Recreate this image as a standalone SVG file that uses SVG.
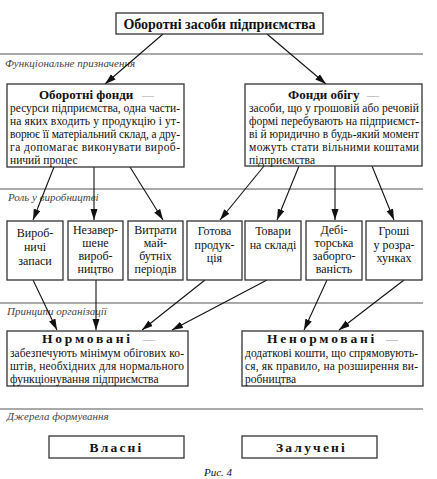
<svg xmlns="http://www.w3.org/2000/svg" width="437" height="479" viewBox="0 0 437 479">
<defs>
<marker id="ah" markerUnits="userSpaceOnUse" markerWidth="12" markerHeight="8" refX="11" refY="3.5" orient="auto">
<path d="M0,0 L11,3.5 L0,7 z" fill="#111"/>
</marker>
</defs>
<style>
.bx{fill:#fff;stroke:#333;stroke-width:1.3}
.sep{stroke:#555;stroke-width:1.2}
.lbl{font-family:"Liberation Serif",serif;font-style:italic;font-size:11px;fill:#444}
.t{font-family:"Liberation Serif",serif;fill:#111}
.ttl{font-weight:bold;font-size:14px}
.h{font-weight:bold;font-size:13px}
.sp{font-weight:bold;font-size:13.5px;letter-spacing:2.8px}
.b{font-size:11.5px}
.s{font-size:12px;text-anchor:middle}
.dash{fill:#999;font-size:12px}
.c line{stroke:#111;stroke-width:1.1;marker-end:url(#ah)}
</style>
<rect width="437" height="479" fill="#fff"/>
<g id="separators">
<line class="sep" x1="0" y1="54" x2="423" y2="54"/>
<line class="sep" x1="0" y1="189" x2="423" y2="189"/>
<line class="sep" x1="0" y1="303" x2="423" y2="303"/>
<line class="sep" x1="0" y1="409" x2="423" y2="409"/>
<text class="lbl" x="5" y="67">Функціональне призначення</text>
<text class="lbl" x="8" y="201">Роль у виробництві</text>
<text class="lbl" x="7" y="315">Принципи організації</text>
<text class="lbl" x="7" y="420">Джерела формування</text>
</g>
<g class="c" id="connectors">
<line x1="163" y1="34" x2="105" y2="84"/>
<line x1="267" y1="34" x2="326" y2="84"/>
<line x1="54" y1="167" x2="33" y2="220"/>
<line x1="94" y1="167" x2="94" y2="220"/>
<line x1="130" y1="167" x2="163" y2="220"/>
<line x1="264" y1="166" x2="220" y2="220"/>
<line x1="299" y1="166" x2="277" y2="220"/>
<line x1="335" y1="166" x2="335" y2="220"/>
<line x1="372" y1="166" x2="394" y2="220"/>
<line x1="33" y1="280" x2="57" y2="330"/>
<line x1="96" y1="280" x2="96" y2="330"/>
<line x1="205" y1="280" x2="142" y2="330"/>
<line x1="267" y1="280" x2="172" y2="330"/>
<line x1="327" y1="280" x2="304" y2="330"/>
<line x1="404" y1="280" x2="339" y2="330"/>
</g>
<g id="root">
<rect class="bx" x="116" y="13" width="207" height="21"/>
<text class="t ttl" x="219.5" y="28.5" text-anchor="middle">Оборотні засоби підприємства</text>
</g>
<g id="oborotni-fondy">
<rect class="bx" x="7" y="84" width="177" height="83"/>
<text class="t h" x="39" y="99">Оборотні фонди</text>
<text class="t dash" x="142" y="99">—</text>
<text class="t b" x="10" y="112" textLength="170" lengthAdjust="spacing">ресурси підприємства, одна части-</text>
<text class="t b" x="10" y="125" textLength="170" lengthAdjust="spacing">на яких входить у продукцію і ут-</text>
<text class="t b" x="10" y="138" textLength="170" lengthAdjust="spacing">ворює її матеріальний склад, а дру-</text>
<text class="t b" x="10" y="151" textLength="170" lengthAdjust="spacing">га допомагає виконувати вироб-</text>
<text class="t b" x="10" y="164">ничий процес</text>
</g>
<g id="fondy-obihu">
<rect class="bx" x="245" y="84" width="177" height="82"/>
<text class="t h" x="288" y="99">Фонди обігу</text>
<text class="t dash" x="367" y="99">—</text>
<text class="t b" x="249" y="112" textLength="170" lengthAdjust="spacing">засоби, що у грошовій або речовій</text>
<text class="t b" x="249" y="125" textLength="170" lengthAdjust="spacing">формі перебувають на підприємст-</text>
<text class="t b" x="249" y="138" textLength="170" lengthAdjust="spacing">ві й юридично в будь-який момент</text>
<text class="t b" x="249" y="151" textLength="170" lengthAdjust="spacing">можуть стати вільними коштами</text>
<text class="t b" x="249" y="164">підприємства</text>
</g>
<g id="vyrobnychi-zapasy">
<rect class="bx" x="7" y="221" width="56" height="59"/>
<text class="t s" x="35" y="237">Вироб-</text>
<text class="t s" x="35" y="251">ничі</text>
<text class="t s" x="35" y="265">запаси</text>
</g>
<g id="nezavershene">
<rect class="bx" x="68" y="221" width="55" height="59"/>
<text class="t s" x="95.5" y="234">Незавер-</text>
<text class="t s" x="95.5" y="247">шене</text>
<text class="t s" x="95.5" y="260">вироб-</text>
<text class="t s" x="95.5" y="273">ництво</text>
</g>
<g id="vytraty">
<rect class="bx" x="128" y="221" width="55" height="59"/>
<text class="t s" x="155.5" y="234">Витрати</text>
<text class="t s" x="155.5" y="247">май-</text>
<text class="t s" x="155.5" y="260">бутніх</text>
<text class="t s" x="155.5" y="273">періодів</text>
</g>
<g id="hotova">
<rect class="bx" x="187" y="221" width="55" height="59"/>
<text class="t s" x="214.5" y="235">Готова</text>
<text class="t s" x="214.5" y="249">продук-</text>
<text class="t s" x="214.5" y="262">ція</text>
</g>
<g id="tovary">
<rect class="bx" x="245" y="221" width="56" height="59"/>
<text class="t s" x="273" y="235">Товари</text>
<text class="t s" x="273" y="249">на складі</text>
</g>
<g id="debitorska">
<rect class="bx" x="306" y="221" width="56" height="59"/>
<text class="t s" x="334" y="234">Дебі-</text>
<text class="t s" x="334" y="247">торська</text>
<text class="t s" x="334" y="260">заборго-</text>
<text class="t s" x="334" y="273">ваність</text>
</g>
<g id="hroshi">
<rect class="bx" x="366" y="221" width="56" height="59"/>
<text class="t s" x="394" y="235">Гроші</text>
<text class="t s" x="394" y="249">у розра-</text>
<text class="t s" x="394" y="262">хунках</text>
</g>
<g id="normovani">
<rect class="bx" x="7" y="331" width="181" height="55"/>
<text class="t sp" x="42" y="343">Нормовані</text>
<text class="t dash" x="143" y="343">—</text>
<text class="t b" x="10" y="357" textLength="174" lengthAdjust="spacing">забезпечують мінімум обігових ко-</text>
<text class="t b" x="10" y="370" textLength="174" lengthAdjust="spacing">штів, необхідних для нормального</text>
<text class="t b" x="10" y="383">функціонування підприємства</text>
</g>
<g id="nenormovani">
<rect class="bx" x="242" y="331" width="181" height="55"/>
<text class="t sp" x="267" y="343">Ненормовані</text>
<text class="t dash" x="386" y="343">—</text>
<text class="t b" x="245" y="357" textLength="173" lengthAdjust="spacing">додаткові кошти, що спрямовують-</text>
<text class="t b" x="245" y="370" textLength="173" lengthAdjust="spacing">ся, як правило, на розширення ви-</text>
<text class="t b" x="245" y="383">робництва</text>
</g>
<g id="vlasni">
<rect class="bx" x="49" y="436" width="135" height="22"/>
<text class="t sp" x="116.5" y="451.5" text-anchor="middle" style="letter-spacing:2.2px">Власні</text>
</g>
<g id="zalucheni">
<rect class="bx" x="242" y="436" width="135" height="22"/>
<text class="t sp" x="311.5" y="451.5" text-anchor="middle" style="letter-spacing:2.2px">Залучені</text>
</g>
<text class="t" x="218" y="476" text-anchor="middle" font-style="italic" font-size="11">Рис. 4</text>
</svg>
